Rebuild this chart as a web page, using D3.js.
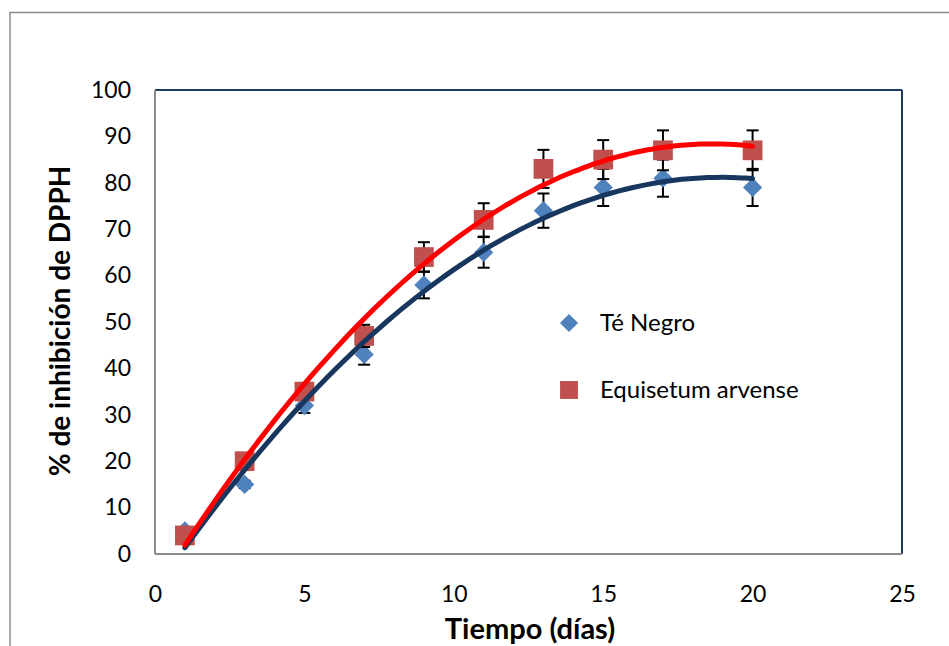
<!DOCTYPE html>
<html>
<head>
<meta charset="utf-8">
<script src="https://cdn.jsdelivr.net/npm/d3@7"></script>
<style>
  body { margin: 0; background: #fff; }
  text { font-family: Lato, "Noto Sans", sans-serif; }
</style>
</head>
<body>
<div id="chart"></div>
<script>
var svgWidth = 949;
var svgHeight = 646;
var margin = { top: 90, right: 47, bottom: 92, left: 155 };

var width = svgWidth - margin.left - margin.right;
var height = svgHeight - margin.top - margin.bottom;

// data
var dias = [1, 3, 5, 7, 9, 11, 13, 15, 17, 20];
var teNegro = [5, 15, 32, 43, 58, 65, 74, 79, 81, 79];
var teNegroErr = [0.3, 0.8, 1.6, 2.2, 2.9, 3.3, 3.7, 4, 4, 4];
var equisetum = [4, 20, 35, 47, 64, 72, 83, 85, 87, 87];
var equisetumErr = [0.2, 1, 1.7, 2.4, 3.2, 3.6, 4.1, 4.2, 4.3, 4.3];
var xTicks = [0, 5, 10, 15, 20, 25];
var yTicks = [0, 10, 20, 30, 40, 50, 60, 70, 80, 90, 100];
var seriesNames = ["Té Negro", "Equisetum arvense"];

var svg = d3.select("#chart")
  .append("svg")
  .attr("width", svgWidth)
  .attr("height", svgHeight);

// outer chart border
svg.append("rect")
  .attr("x", 10)
  .attr("y", 12.5)
  .attr("width", 960)
  .attr("height", 700)
  .attr("fill", "none")
  .attr("stroke", "#8c8c8c")
  .attr("stroke-width", 1.5);

var chartGroup = svg.append("g")
  .attr("transform", `translate(${margin.left}, ${margin.top})`);

var xScale = d3.scaleLinear().domain([0, 25]).range([0, width]);
var yScale = d3.scaleLinear().domain([0, 100]).range([height, 0]);

// plot area frame
chartGroup.append("line").attr("x1", 0).attr("x2", width).attr("y1", 0).attr("y2", 0)
  .attr("stroke", "#1f3a60").attr("stroke-width", 2);
chartGroup.append("line").attr("x1", width).attr("x2", width).attr("y1", 0).attr("y2", height)
  .attr("stroke", "#1f3a60").attr("stroke-width", 2);
chartGroup.append("line").attr("x1", 0).attr("x2", 0).attr("y1", 0).attr("y2", height)
  .attr("stroke", "#8c8c8c").attr("stroke-width", 2);
chartGroup.append("line").attr("x1", 0).attr("x2", width).attr("y1", height).attr("y2", height)
  .attr("stroke", "#8c8c8c").attr("stroke-width", 2);

// axes (labels only)
var leftAxis = d3.axisLeft(yScale).tickValues(yTicks).tickSize(0).tickPadding(24);
var bottomAxis = d3.axisBottom(xScale).tickValues(xTicks).tickSize(0).tickPadding(32);

var yAxisG = chartGroup.append("g").call(leftAxis);
var xAxisG = chartGroup.append("g").attr("transform", `translate(0, ${height})`).call(bottomAxis);
[yAxisG, xAxisG].forEach(function(g) {
  g.select(".domain").remove();
  g.selectAll("text")
    .attr("fill", "#000")
    .style("font-family", "Lato, sans-serif")
    .style("font-size", "23px");
});

// axis titles
svg.append("text")
  .attr("x", 530)
  .attr("y", 639)
  .attr("text-anchor", "middle")
  .style("font-size", "29px")
  .style("font-weight", "bold")
  .text("Tiempo (días)");

svg.append("text")
  .attr("transform", "translate(70, 321) rotate(-90)")
  .attr("text-anchor", "middle")
  .style("font-size", "28px")
  .style("font-weight", "bold")
  .text("% de inhibición de DPPH");

// quadratic trendline, least squares like the spreadsheet does
function quadFit(xs, ys) {
  var s = [0, 0, 0, 0, 0], t = [0, 0, 0];
  xs.forEach(function(x, i) {
    for (var k = 0; k < 5; k++) s[k] += Math.pow(x, k);
    for (var k = 0; k < 3; k++) t[k] += ys[i] * Math.pow(x, k);
  });
  var A = [[s[0], s[1], s[2], t[0]], [s[1], s[2], s[3], t[1]], [s[2], s[3], s[4], t[2]]];
  for (var i = 0; i < 3; i++) {
    for (var j = i + 1; j < 3; j++) {
      var f = A[j][i] / A[i][i];
      for (var k = i; k < 4; k++) A[j][k] -= f * A[i][k];
    }
  }
  var c = [0, 0, 0];
  for (var i = 2; i >= 0; i--) {
    var v = A[i][3];
    for (var k = i + 1; k < 3; k++) v -= A[i][k] * c[k];
    c[i] = v / A[i][i];
  }
  return function(x) { return c[0] + c[1] * x + c[2] * x * x; };
}

var series = [
  { name: seriesNames[0], values: teNegro, err: teNegroErr, color: "#4f81bd", line: "#17375e", rot: 45, size: 185, legendSize: 165 },
  { name: seriesNames[1], values: equisetum, err: equisetumErr, color: "#c0504d", line: "#ff0000", rot: 0, size: 390, legendSize: 320 }
];

// error bars and markers
series.forEach(function(s) {
  var pts = dias.map(function(d, i) { return { x: d, y: s.values[i], e: s.err[i] }; });
  var eb = chartGroup.append("g").attr("stroke", "#000").attr("stroke-width", 2);
  pts.forEach(function(p) {
    var cx = xScale(p.x);
    eb.append("line").attr("x1", cx).attr("x2", cx)
      .attr("y1", yScale(p.y + p.e)).attr("y2", yScale(p.y - p.e));
    eb.append("line").attr("x1", cx - 6).attr("x2", cx + 6)
      .attr("y1", yScale(p.y + p.e)).attr("y2", yScale(p.y + p.e));
    eb.append("line").attr("x1", cx - 6).attr("x2", cx + 6)
      .attr("y1", yScale(p.y - p.e)).attr("y2", yScale(p.y - p.e));
  });
  chartGroup.append("g").selectAll("path")
    .data(pts)
    .enter()
    .append("path")
    .attr("d", d3.symbol().type(d3.symbolSquare).size(s.size))
    .attr("transform", d => `translate(${xScale(d.x)}, ${yScale(d.y)}) rotate(${s.rot})`)
    .attr("fill", s.color);
});

// trendlines on top
series.forEach(function(s) {
  var fit = quadFit(dias, s.values);
  var xs = d3.range(dias[0], dias[dias.length - 1] + 0.001, 0.25);
  var line = d3.line()
    .x(d => xScale(d))
    .y(d => yScale(fit(d)))
    .curve(d3.curveMonotoneX);
  chartGroup.append("path")
    .datum(xs)
    .attr("d", line)
    .attr("fill", "none")
    .attr("stroke", s.line)
    .attr("stroke-width", 5)
    .attr("stroke-linecap", "round");
});

// legend
var legend = svg.append("g");
series.forEach(function(s, i) {
  var ly = 323 + i * 67;
  legend.append("path")
    .attr("d", d3.symbol().type(d3.symbolSquare).size(s.legendSize))
    .attr("transform", `translate(569, ${ly}) rotate(${s.rot})`)
    .attr("fill", s.color);
  legend.append("text")
    .attr("x", 600)
    .attr("y", ly + 8)
    .style("font-size", "24px")
    .text(s.name);
});
</script>
</body>
</html>
